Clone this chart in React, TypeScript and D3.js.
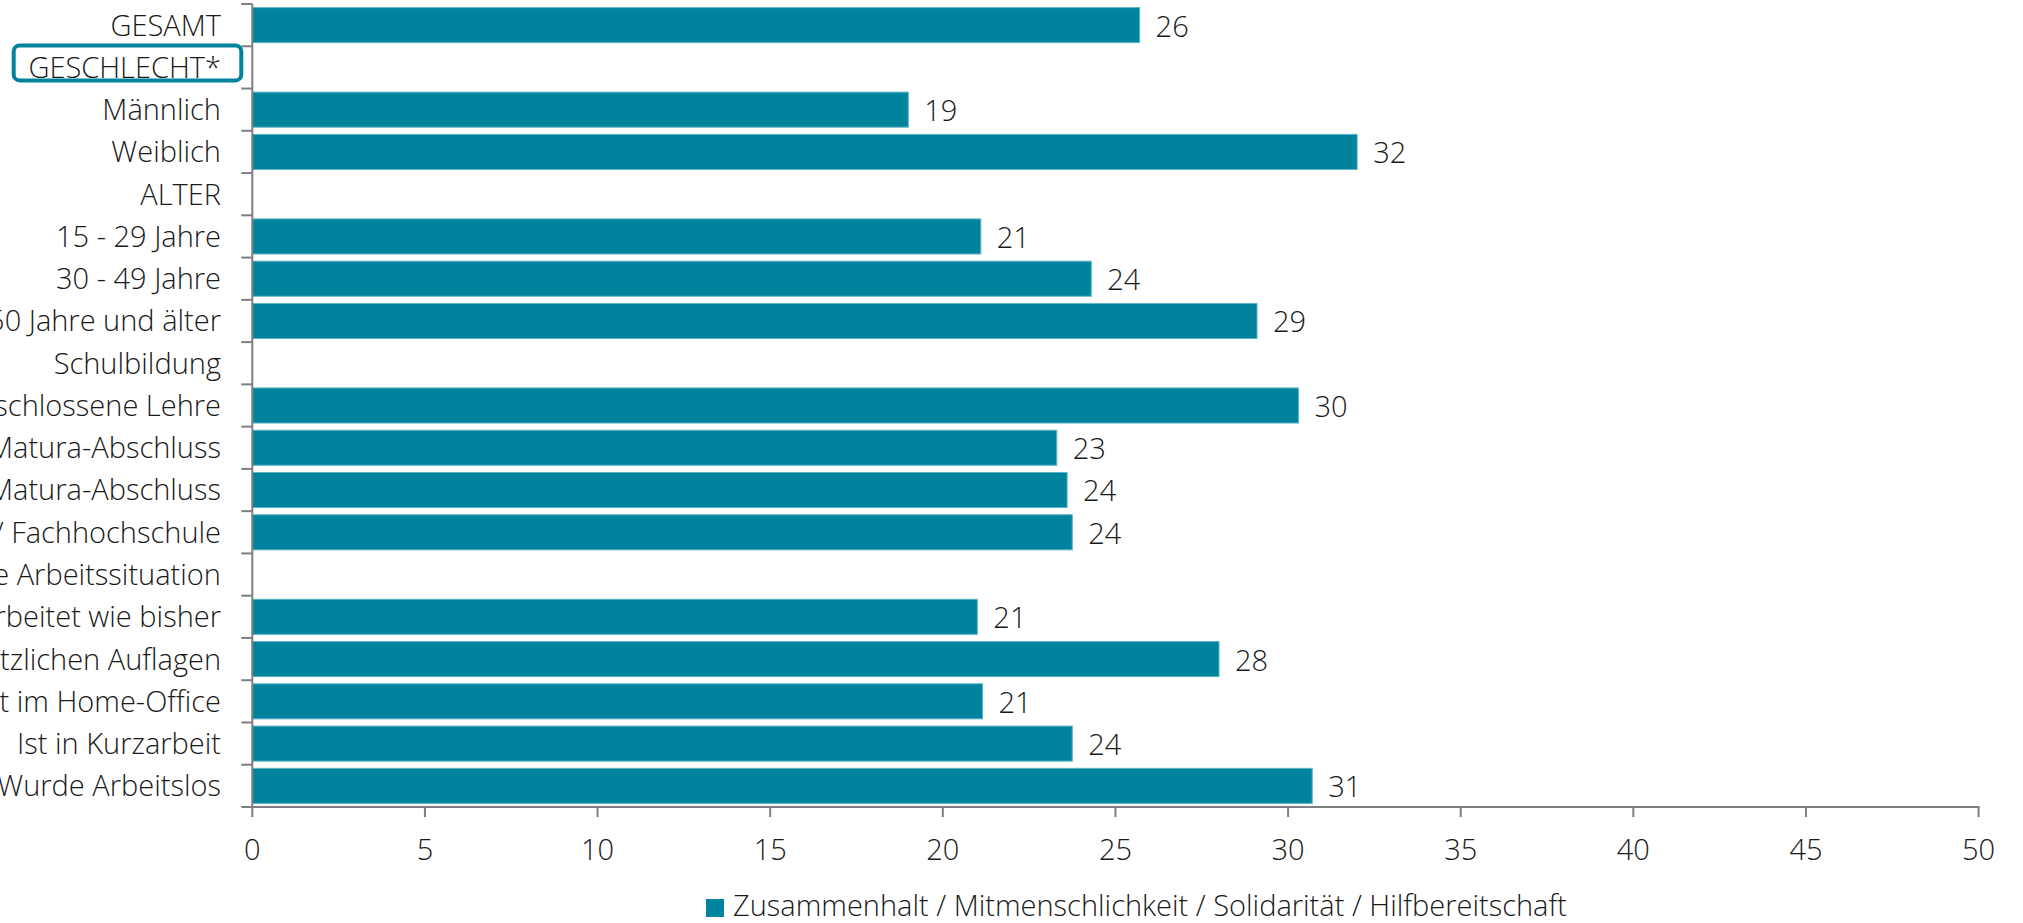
import React from "react";
import * as d3 from "d3";

const categories: string[] = [
  "GESAMT",
  "GESCHLECHT*",
  "Männlich",
  "Weiblich",
  "ALTER",
  "15 - 29 Jahre",
  "30 - 49 Jahre",
  "50 Jahre und älter",
  "Schulbildung",
  "Abgeschlossene Lehre",
  "Ohne Matura-Abschluss",
  "Mit Matura-Abschluss",
  "Universität/ Fachhochschule",
  "Aktuelle Arbeitssituation",
  "Arbeitet wie bisher",
  "Arbeitet mit zusätzlichen Auflagen",
  "Arbeitet im Home-Office",
  "Ist in Kurzarbeit",
  "Wurde Arbeitslos",
];

// null = group header (no bar)
const values: (number | null)[] = [
  25.7, null, 19.0, 32.0, null, 21.1, 24.3, 29.1, null, 30.3, 23.3, 23.6, 23.75, null, 21.0, 28.0, 21.15, 23.75, 30.7,
];

const valueLabels: string[] = [
  "26", "", "19", "32", "", "21", "24", "29", "", "30", "23", "24", "24", "", "21", "28", "21", "24", "31",
];

const xTicks: number[] = [0, 5, 10, 15, 20, 25, 30, 35, 40, 45, 50];
const highlighted = "GESCHLECHT*";
const legendLabel = "Zusammenhalt / Mitmenschlichkeit / Solidarität / Hilfbereitschaft";

const W = 2023;
const H = 923;
const FONT = "'Open Sans', 'Noto Sans', sans-serif";
const BAR = "#00839d";
const BAR_EDGE = "#5fb5c8";
const AXIS = "#7f7f7f";
const TEXT = "#1a1a1a";

export default function App() {
  const x = d3.scaleLinear().domain([0, 50]).range([252.3, 1978.6]);
  const y = d3
    .scaleBand<string>()
    .domain(categories)
    .range([4, 807])
    .paddingInner(0.17)
    .paddingOuter(0.085);

  const step = y.step();
  const r0 = 4;
  const boundaries = d3.range(categories.length + 1).map((i) => r0 + i * step);

  const hlY = (y(highlighted) as number) + y.bandwidth() / 2;

  return (
    <svg
      width={W}
      height={H}
      style={{ position: "absolute", left: 0, top: 0, background: "#fff" }}
      fontFamily={FONT}
    >
      {/* bars */}
      {categories.map((c, i) =>
        values[i] == null ? null : (
          <rect
            key={c}
            x={x(0)}
            y={y(c) as number}
            width={x(values[i] as number) - x(0)}
            height={y.bandwidth()}
            fill={BAR}
            stroke={BAR_EDGE}
            strokeWidth={1}
          />
        )
      )}
      {/* value labels */}
      {categories.map((c, i) =>
        values[i] == null ? null : (
          <text
            key={"v" + c}
            x={x(values[i] as number) + 16}
            y={(y(c) as number) + y.bandwidth() / 2 + 1}
            dy="0.36em"
            fontSize={29}
            fontWeight={300}
            fill={TEXT}
          >
            {valueLabels[i]}
          </text>
        )
      )}
      {/* y axis */}
      <line x1={x(0)} x2={x(0)} y1={boundaries[0]} y2={boundaries[boundaries.length - 1]} stroke={AXIS} strokeWidth={2} />
      {boundaries.map((b, i) => (
        <line key={"yt" + i} x1={x(0) - 11} x2={x(0)} y1={b} y2={b} stroke={AXIS} strokeWidth={2} />
      ))}
      {/* category labels */}
      {categories.map((c) => (
        <text
          key={"l" + c}
          x={221}
          y={(y(c) as number) + y.bandwidth() / 2}
          dy="0.36em"
          textAnchor="end"
          fontSize={29}
          fontWeight={300}
          fill={TEXT}
        >
          {c}
        </text>
      ))}
      {/* highlight box */}
      <rect
        x={13.7}
        y={hlY - 22}
        width={227.6}
        height={35}
        rx={6}
        ry={6}
        fill="none"
        stroke={BAR}
        strokeWidth={4}
      />
      {/* x axis */}
      <line x1={x(0) - 1} x2={x(50) + 1} y1={807} y2={807} stroke={AXIS} strokeWidth={2} />
      {xTicks.map((t) => (
        <g key={"xt" + t}>
          <line x1={x(t)} x2={x(t)} y1={807} y2={817} stroke={AXIS} strokeWidth={2} />
          <text x={x(t)} y={860} textAnchor="middle" fontSize={29} fontWeight={300} fill={TEXT}>
            {t}
          </text>
        </g>
      ))}
      {/* legend */}
      <rect x={706} y={899} width={18} height={18} fill={BAR} />
      <text x={733} y={916} fontSize={29} fontWeight={300} fill={TEXT}>
        {legendLabel}
      </text>
    </svg>
  );
}
